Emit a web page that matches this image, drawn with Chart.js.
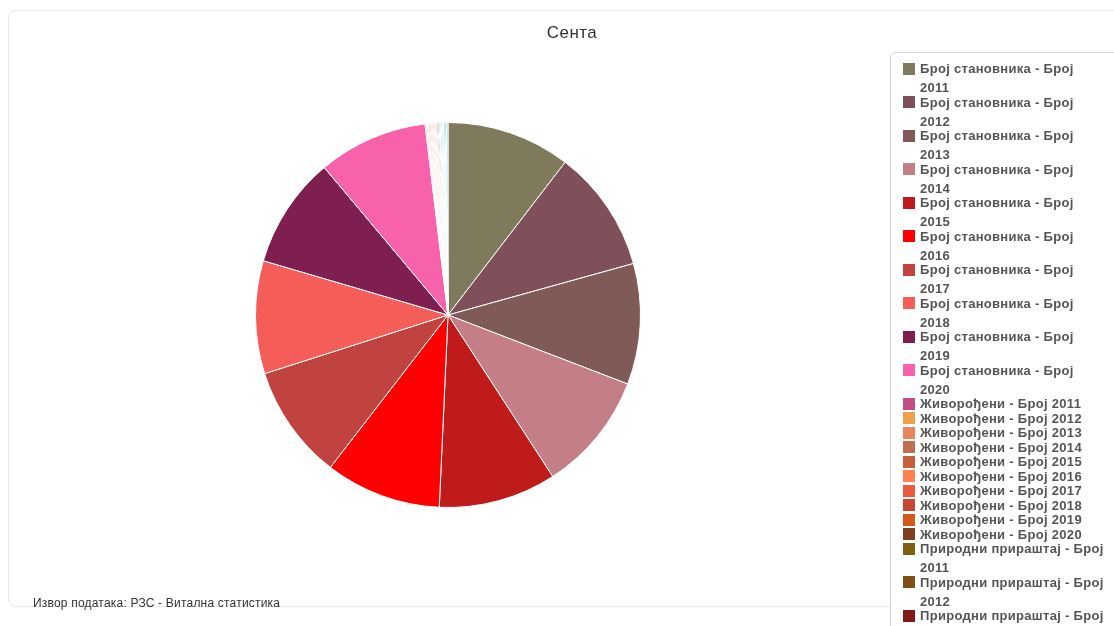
<!DOCTYPE html>
<html>
<head>
<meta charset="utf-8">
<script src="https://cdn.jsdelivr.net/npm/chart.js@4"></script>
<style>
    html, body { margin: 0; padding: 0; background: #fff; overflow: hidden; width: 1114px; height: 626px; }
    body { position: relative; font-family: "Liberation Sans", Arial, sans-serif; }
    .frame {
        position: absolute; left: 8px; top: 10px; width: 1128px; height: 597px;
        border: 1px solid #e8e8e8; border-radius: 8px; box-sizing: border-box;
    }
    #chart { position: absolute; left: 8px; top: 10px; }
    .title { position: absolute; left: 472px; width: 200px; top: 23px; text-align: center;
        font-size: 17px; letter-spacing: 0.5px; color: #333; }
    .source { position: absolute; left: 33px; top: 596px; font-size: 12px; letter-spacing: 0.2px; color: #333; }
    #legend {
        position: absolute; left: 890px; top: 52px; width: 250px; height: 640px;
        border: 1px solid #d4d4d4; border-radius: 5px; background: #fff;
        box-sizing: border-box; padding-top: 6px;
    }
    .item { position: relative; padding-left: 29px; line-height: 19px; margin-bottom: -4.5px;
        font-size: 13px; font-weight: bold; letter-spacing: 0.3px; color: #555; white-space: nowrap; }
    .item .box { position: absolute; left: 12px; top: 3.5px; width: 12px; height: 12px; }
</style>
</head>
<body>
<div class="frame"></div>
<canvas id="chart" width="1128" height="597"></canvas>
<div class="title">Сента</div>
<div class="source">Извор података: РЗС - Витална статистика</div>
<div id="legend"></div>
<script>
document.addEventListener('DOMContentLoaded', () => {
    // -- Data --
    const years = ['2011', '2012', '2013', '2014', '2015', '2016', '2017', '2018', '2019', '2020'];
    const population = [23300, 23000, 22700, 22400, 22100, 21800, 21500, 21200, 20900, 20600];
    const births = [230, 215, 205, 210, 195, 200, 190, 185, 180, 170];
    const naturalIncrease = [-190, -200, -215, -205, -230, -220, -235, -245, -255, -290];

    const populationColors = ['#807a5c', '#7f4f5a', '#7f5a56', '#c47f86', '#bf1b1b',
        '#ff0000', '#c0433f', '#f55e58', '#7f1f4f', '#f762ab'];
    const birthColors = ['#c04d86', '#f0a04a', '#e8875e', '#c06e50', '#c85e3c',
        '#ff8050', '#e85a3a', '#c8452e', '#d4581a', '#7f3e20'];
    const increaseColors = ['#806010', '#7f5014', '#7f1a14', '#4fb3bf', '#7fd4e0',
        '#2f8f9f', '#a0e6ef', '#5fc4d0', '#3aa0b0', '#8ad8e4'];

    const labels = [
        ...years.map(y => `Број становника - Број ${y}`),
        ...years.map(y => `Живорођени - Број ${y}`),
        ...years.map(y => `Природни прираштај - Број ${y}`)
    ];
    const values = [...population, ...births, ...naturalIncrease];
    const colors = [...populationColors, ...birthColors, ...increaseColors];

    // -- Chart --
    const ctx = document.getElementById('chart').getContext('2d');
    const chart = new Chart(ctx, {
        type: 'pie',
        data: {
            labels: labels,
            datasets: [{
                data: values,
                backgroundColor: colors,
                borderColor: '#ffffff',
                borderWidth: 1
            }]
        },
        options: {
            responsive: false,
            animation: false,
            layout: {
                padding: { left: 247, right: 495, top: 112, bottom: 99 }
            },
            plugins: {
                legend: { display: false },
                tooltip: { enabled: false }
            }
        }
    });

    // -- HTML legend built from the chart's own legend items --
    const legendEl = document.getElementById('legend');
    const items = Chart.overrides.pie.plugins.legend.labels.generateLabels(chart);
    for (const item of items) {
        const row = document.createElement('div');
        row.className = 'item';
        const box = document.createElement('span');
        box.className = 'box';
        box.style.background = item.fillStyle;
        row.appendChild(box);
        const text = item.text;
        if (text.length > 24) {
            const cut = text.lastIndexOf(' ');
            row.appendChild(document.createTextNode(text.slice(0, cut)));
            row.appendChild(document.createElement('br'));
            row.appendChild(document.createTextNode(text.slice(cut + 1)));
        } else {
            row.appendChild(document.createTextNode(text));
        }
        legendEl.appendChild(row);
    }
});
</script>
</body>
</html>
